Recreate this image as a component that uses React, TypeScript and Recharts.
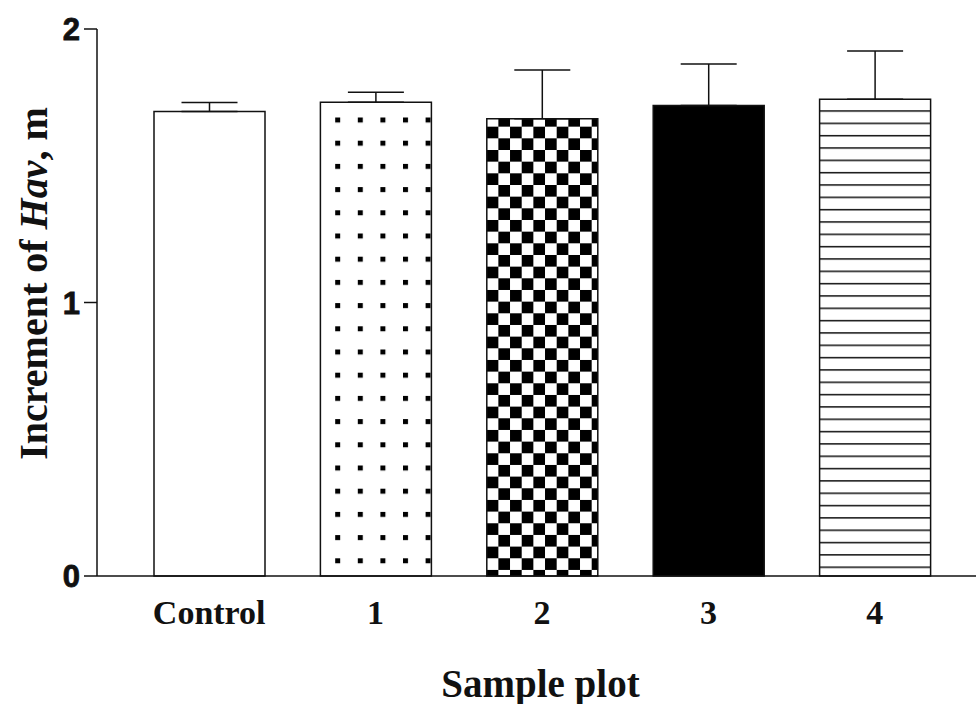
import { Bar, BarChart, Cell, ErrorBar, Label, XAxis, YAxis } from 'recharts'

const categories = ['Control', '1', '2', '3', '4']
const means = [1.698, 1.732, 1.672, 1.72, 1.743]
const upperErr = [0.033, 0.037, 0.178, 0.152, 0.177]
const yTicks = [0, 1, 2]

const INK = '#111'
const SERIF = '"Liberation Serif", "Times New Roman", serif'
const SANS = '"Liberation Sans", Arial, sans-serif'
const FILLS = ['#fff', 'url(#dots)', 'url(#checks)', '#000', 'url(#hlines)']

const data = categories.map((name, i) => ({ name, value: means[i], err: [0, upperErr[i]] }))

function XTick({ x, y, payload }: any) {
  return (
    <text x={x} y={y + 48} textAnchor="middle" fontFamily={SERIF} fontWeight="bold" fontSize={34} fill={INK}>
      {payload.value}
    </text>
  )
}

function YTick({ x, y, payload }: any) {
  return (
    <text
      x={x}
      y={y + 11}
      textAnchor="end"
      fontFamily={SANS}
      fontWeight="bold"
      fontSize={31}
      fill={INK}
      stroke={INK}
      strokeWidth={0.8}
    >
      {payload.value}
    </text>
  )
}

function XTitle({ viewBox }: any) {
  return (
    <text
      x={viewBox.x + viewBox.width / 2 + 4}
      y={viewBox.y + 121}
      textAnchor="middle"
      fontFamily={SERIF}
      fontWeight="bold"
      fontSize={39}
      fill={INK}
    >
      Sample plot
    </text>
  )
}

function YTitle({ viewBox }: any) {
  const cy = viewBox.y + viewBox.height / 2 - 19
  return (
    <text
      transform={`translate(${viewBox.x + 47},${cy}) rotate(-90)`}
      textAnchor="middle"
      fontFamily={SERIF}
      fontWeight="bold"
      fontSize={40}
      fill={INK}
    >
      Increment of <tspan fontStyle="italic">Hav</tspan>, m
    </text>
  )
}

export default function App() {
  return (
    <div style={{ position: 'absolute', left: 0, top: 0, width: 976, height: 704, background: '#fff' }}>
      <BarChart width={976} height={704} data={data} margin={{ top: 29, right: 0, bottom: 0, left: 0 }}>
        <defs>
          <pattern id="dots" patternUnits="userSpaceOnUse" x={335.2} y={117.5} width={22.6} height={23.2}>
            <rect width={22.6} height={23.2} fill="#fff" />
            <rect x={0} y={0} width={5} height={5} fill="#000" />
          </pattern>
          <pattern id="checks" patternUnits="userSpaceOnUse" x={486.7} y={313.3} width={23.33} height={23.33}>
            <rect width={23.33} height={23.33} fill="#fff" />
            <rect x={0} y={0} width={11.67} height={11.67} fill="#000" />
            <rect x={11.67} y={11.67} width={11.67} height={11.67} fill="#000" />
          </pattern>
          <pattern id="hlines" patternUnits="userSpaceOnUse" x={0} y={110.25} width={20} height={12.33}>
            <rect width={20} height={12.33} fill="#fff" />
            <rect x={0} y={0} width={20} height={1.5} fill={INK} />
          </pattern>
        </defs>
        <XAxis
          dataKey="name"
          height={128}
          padding={{ left: 29, right: 18 }}
          axisLine={{ stroke: INK, strokeWidth: 1.5 }}
          tickLine={false}
          tickSize={0}
          tickMargin={0}
          tick={<XTick />}
          interval={0}
        >
          <Label content={<XTitle />} />
        </XAxis>
        <YAxis
          width={97}
          domain={[0, 2]}
          ticks={yTicks}
          interval={0}
          tickSize={13}
          tickMargin={4}
          axisLine={{ stroke: INK, strokeWidth: 1.5 }}
          tickLine={{ stroke: INK, strokeWidth: 1.5 }}
          tick={<YTick />}
        >
          <Label content={<YTitle />} />
        </YAxis>
        <Bar dataKey="value" barSize={111} stroke={INK} strokeWidth={1.5} isAnimationActive={false}>
          {data.map((d, i) => (
            <Cell key={d.name} fill={FILLS[i]} />
          ))}
          <ErrorBar dataKey="err" direction="y" width={28} stroke={INK} strokeWidth={1.5} isAnimationActive={false} />
        </Bar>
      </BarChart>
    </div>
  )
}
